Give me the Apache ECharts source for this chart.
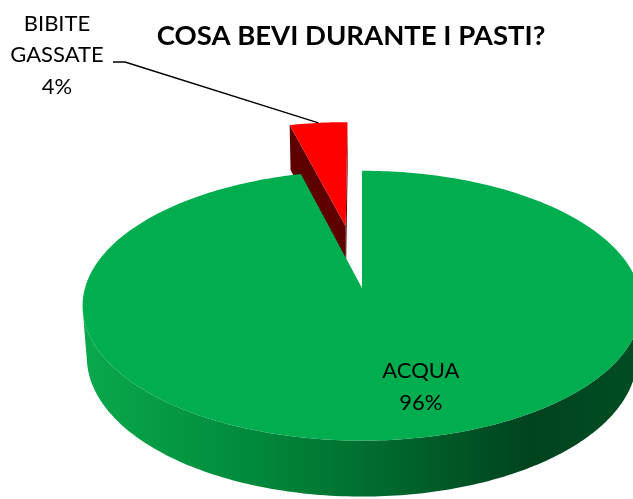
<!DOCTYPE html>
<html>
<head>
<meta charset="utf-8">
<script src="https://cdn.jsdelivr.net/npm/echarts@6/dist/echarts.min.js"></script>
<style>
html,body{margin:0;padding:0;background:#fff;}
#chart{width:633px;height:499px;}
</style>
</head>
<body>
<div id="chart"></div>
<script>
// ---- data ----
const categories = ['ACQUA', 'BIBITE\nGASSATE'];
const values = [96, 4];
const percentLabels = ['96%', '4%'];
const chartTitle = 'COSA BEVI DURANTE I PASTI?';

// ---- 3D pie styling / layout ----
const topColors = ['#00ad4f', '#ff0000'];
const faceColors = ['#00803a', '#5e0000'];
const explodeFrac = [0, 0.5];
const cx = 362, cy = 288, R = 277, H = 59, D = 1855;
const tilt = 28.6 * Math.PI / 180;
const sinT = Math.sin(tilt), cosT = Math.cos(tilt);
const camV = -D * cosT;

function proj(u, v, h) {
  const Y = v * sinT + h * cosT;
  const Z = v * cosT - h * sinT;
  const s = D / (D + Z);
  return [cx + u * s, cy - Y * s];
}
const rad = d => d * Math.PI / 180;

const total = values.reduce((a, b) => a + b, 0);

const chart = echarts.init(document.getElementById('chart'));

function renderItem(params, api) {
  const i = params.dataIndex;
  const val = api.value(0);
  let before = 0;
  for (let k = 0; k < i; k++) before += values[k];
  const t1 = before / total * 360;
  const t2 = (before + val) / total * 360;
  const mid = (t1 + t2) / 2;
  const ex = explodeFrac[i] * R;
  const au = ex * Math.sin(rad(mid)), av = ex * Math.cos(rad(mid));
  const P = (th, r, h) => proj(au + r * Math.sin(rad(th)), av + r * Math.cos(rad(th)), h);
  const zb = i === 0 ? 20 : 0;
  const children = [];

  // outer wall (front facing part)
  const n = Math.max(8, Math.ceil(t2 - t1));
  const topPts = [], botPts = [];
  for (let k = 0; k <= n; k++) {
    const th = t1 + (t2 - t1) * k / n;
    const vis = -au * Math.sin(rad(th)) + (camV - av) * Math.cos(rad(th)) - R > 0;
    if (vis) { topPts.push(P(th, R, 0)); botPts.push(P(th, R, -H)); }
  }
  if (topPts.length >= 2) {
    const pts = topPts.concat(botPts.reverse());
    children.push({
      type: 'polygon', z2: zb + 1,
      shape: { points: pts },
      style: {
        fill: i === 0 ? {
          type: 'linear', global: true, x: cx - R, y: 0, x2: cx + R, y2: 0,
          colorStops: [
            { offset: 0, color: '#0aa84c' },
            { offset: 0.3, color: '#008a3b' },
            { offset: 0.55, color: '#00682d' },
            { offset: 0.8, color: '#00431f' },
            { offset: 1, color: '#004d23' }
          ]
        } : faceColors[i]
      },
      silent: true
    });
  }

  // radial faces
  [[t1, -1], [t2, 1]].forEach(([th, sgn]) => {
    const nu = sgn * Math.cos(rad(th)), nv = -sgn * Math.sin(rad(th));
    const d = nu * (0 - au) + nv * (camV - av);
    if (d > 1) {
      const a0 = proj(au, av, 0), a1 = proj(au, av, -H);
      const e0 = P(th, R, 0), e1 = P(th, R, -H);
      children.push({
        type: 'polygon', z2: zb + 2,
        shape: { points: [a0, e0, e1, a1] },
        style: { fill: faceColors[i] }, silent: true
      });
    }
  });

  // top face
  const top = [proj(au, av, 0)];
  for (let k = 0; k <= n; k++) top.push(P(t1 + (t2 - t1) * k / n, R, 0));
  children.push({
    type: 'polygon', z2: zb + 5,
    shape: { points: top },
    style: { fill: topColors[i] }
  });

  // labels
  const txt = categories[i] + '\n' + percentLabels[i];
  const labelStyle = {
    text: txt, fill: '#000', font: '22px Lato', lineHeight: 31.5,
    align: 'center', verticalAlign: 'middle'
  };
  if (i === 0) {
    const c = P(mid, R * 0.68, 0);
    children.push({
      type: 'text', z2: 100,
      x: c[0] + 33, y: c[1] + 1,
      style: labelStyle
    });
  } else {
    const edge = P(mid, R, 0);
    const lx = 57, ly = 55;
    children.push({
      type: 'polyline', z2: 90,
      shape: { points: [edge, [lx + 68, ly + 7], [lx + 56, ly + 7]] },
      style: { stroke: '#000', lineWidth: 1.4, fill: null }
    });
    children.push({
      type: 'text', z2: 100,
      x: lx, y: ly,
      style: labelStyle
    });
  }
  return { type: 'group', children: children };
}

chart.setOption({
  animation: false,
  graphic: [{
    type: 'text', x: 351, y: 36,
    style: {
      text: chartTitle, fill: '#000', font: 'bold 27.5px Lato',
      align: 'center', verticalAlign: 'middle'
    }
  }],
  series: [{
    type: 'custom',
    coordinateSystem: 'none',
    data: values.map((v, i) => ({ value: [v], name: categories[i] })),
    renderItem: renderItem
  }]
});
</script>
</body>
</html>
